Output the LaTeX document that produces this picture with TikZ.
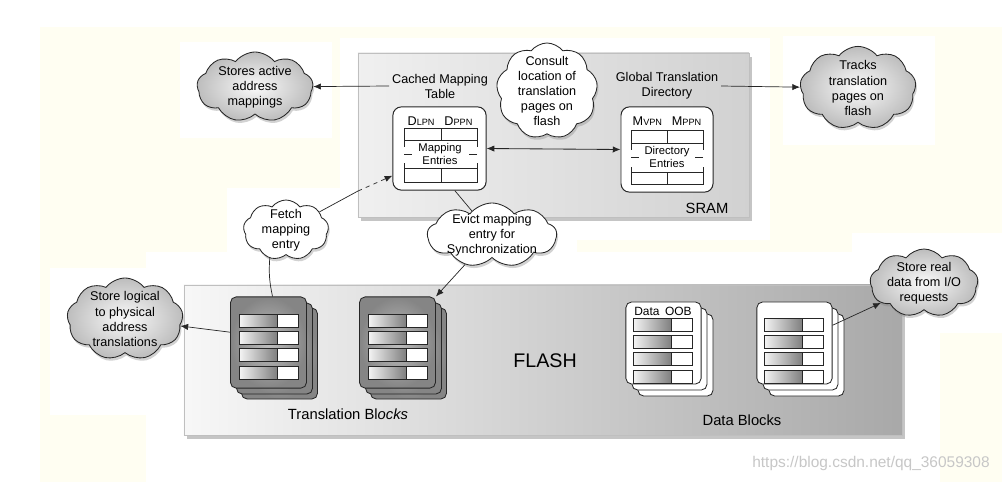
\documentclass[tikz,border=0pt]{standalone}
\usepackage{fontspec}
\setmainfont{Liberation Sans}
\usepackage{xcolor}
\usepackage{tikz}
\usetikzlibrary{shapes,arrows,positioning,arrows.meta,shadows}
\definecolor{crema}{HTML}{FFFEF2}
\tikzset{
  texto/.style={font=\fontsize{9}{10.7}\selectfont, align=center, inner sep=2pt},
  flecha/.style={-{Latex[length=5.5pt,width=4.5pt]}, line width=0.5pt, draw=black!85},
  flechas/.style={{Latex[length=5.5pt,width=4.5pt]}-{Latex[length=5.5pt,width=4.5pt]}, line width=0.6pt, draw=black!85},
  linea/.style={line width=0.5pt, draw=black!85},
  nube/.style={cloud, cloud puffs=9, cloud puff arc=105, cloud ignores aspect, draw=black!85, line width=0.6pt, inner sep=0pt,
    drop shadow={opacity=0.35, shadow xshift=1pt, shadow yshift=-2pt}},
  nubegris/.style={nube, inner color=black!2, outer color=black!26},
  nubeblanca/.style={nube, fill=white},
  memoria/.style={draw=black!25, line width=0.5pt, drop shadow={opacity=0.45, shadow xshift=2pt, shadow yshift=-3pt}},
  tabla/.style={draw=black!85, fill=white, rounded corners=6pt, line width=0.7pt},
  oscuro/.style={draw=black!85, rounded corners=4pt, line width=0.6pt, inner color=black!25, outer color=black!48},
  claro/.style={draw=black!85, fill=white, rounded corners=4pt, line width=0.6pt},
  celda/.style={draw=black!85, line width=0.6pt}
}
\begin{document}
\begin{tikzpicture}[x=0.025cm,y=-0.025cm]
        \useasboundingbox (0,0) rectangle (1002,482);
        % Fondo
        \fill[crema] (40,27) rectangle (1002,482);
        \foreach \xa/\ya/\xb/\yb in {180/42/332/138, 340/38/770/240, 783/36/935/145, 227/188/345/252,
                                     50/268/146/415, 146/252/940/482, 345/238/577/254, 852/233/1002/333} {
            \fill[white] (\xa,\ya) rectangle (\xb,\yb);
        }
        % SRAM y FLASH
        \node[memoria, minimum width=9.78cm, minimum height=4.1cm, left color=black!6, right color=black!18] (sram) at (553.5,135) {};
        \node[memoria, minimum width=17.95cm, minimum height=3.75cm, left color=black!3, right color=black!34] (flash) at (543,360) {};
        \node[font=\fontsize{10.5}{12}\selectfont] (sramlbl) at (707,208) {SRAM};
        \node[font=\fontsize{14}{16}\selectfont] (flashlbl) at (545,361) {FLASH};
        % Tablas en SRAM
        \node[texto] (cmtlbl) at (440,86) {Cached Mapping\\Table};
        \node[texto] (gtdlbl) at (667,86) {Global Translation\\Directory};
        \node[tabla, minimum width=2.33cm, minimum height=2.08cm] (cmt) at (439.5,148.5) {};
        \node[tabla, minimum width=2.3cm, minimum height=2.13cm] (gtd) at (667,149.5) {};
        \node[texto] (cmthead) at (440,121) {D{\fontsize{6.5}{7}\selectfont LPN}\hspace{7pt}D{\fontsize{6.5}{7}\selectfont PPN}};
        \node[texto] (gtdhead) at (667,121) {M{\fontsize{6.5}{7}\selectfont VPN}\hspace{7pt}M{\fontsize{6.5}{7}\selectfont PPN}};
        \foreach \xa/\xb/\xd/\ya/\yb/\yc/\yd in {404/477/441/128/140/168/182, 631/703/667/130/143/172/184} {
            \draw[celda] (\xa,\ya) rectangle (\xb,\yb) (\xd,\ya) -- (\xd,\yb);
            \draw[celda] (\xa,\yc) rectangle (\xb,\yd) (\xd,\yc) -- (\xd,\yd);
            \draw[celda] (\xa,\yb) -- ++(0,7) (\xa,\yc) -- ++(0,-5) (\xb,\yb) -- ++(0,7) (\xb,\yc) -- ++(0,-5);
            \draw[celda] (\xa,{(\yb+\yc)/2}) -- ++(8,0) (\xb,{(\yb+\yc)/2}) -- ++(-8,0);
        }
        \node[font=\fontsize{8}{9.5}\selectfont, align=center] (cmtmid) at (440,154) {Mapping\\Entries};
        \node[font=\fontsize{8}{9.5}\selectfont, align=center] (gtdmid) at (667,157) {Directory\\Entries};
        % Bloques de traduccion
        \foreach \xa in {230.5,359.5} {
            \foreach \d in {11,6} {
                \draw[oscuro] (\xa+\d,297+\d) rectangle ++(76,91);
            }
        }
        \node[oscuro, minimum width=1.9cm, minimum height=2.28cm] (tb1) at (268.5,342.5) {};
        \node[oscuro, minimum width=1.9cm, minimum height=2.28cm] (tb2) at (397.5,342.5) {};
        % Bloques de datos
        \foreach \xa in {626,757} {
            \foreach \d in {12,6} {
                \draw[claro] (\xa+\d,302+\d) rectangle ++(75,82);
            }
        }
        \node[claro, minimum width=1.88cm, minimum height=2.05cm] (db1) at (663.5,343) {};
        \node[claro, minimum width=1.88cm, minimum height=2.05cm] (db2) at (794.5,343) {};
        \node[font=\fontsize{8.5}{10}\selectfont] (dbhead) at (663,311) {Data\hspace{4pt}OOB};
        % Filas de las paginas
        \foreach \xa/\ya in {239/314, 368/314, 633/318, 764/318} {
            \foreach \r in {0,1,2,3} {
                \shade[left color=black!4, right color=black!50] (\xa,\ya+17.4*\r) rectangle ++(38,13);
                \draw[celda, fill=white] (\xa+38,\ya+17.4*\r) rectangle ++(21,13);
                \draw[celda] (\xa,\ya+17.4*\r) rectangle ++(59,13);
            }
        }
        \node[font=\fontsize{10.5}{12}\selectfont] (tblbl) at (348,414) {Translation Bl\textit{ocks}};
        \node[font=\fontsize{10.5}{12}\selectfont] (dblbl) at (742,420) {Data Blocks};
        % Nubes
        \node[nubegris, minimum width=2.9cm, minimum height=1.75cm, label={[texto]center:Stores active\\address\\mappings}] (stores) at (255,87) {};
        \node[nubegris, minimum width=2.9cm, minimum height=2.08cm, label={[texto]center:Tracks\\translation\\pages on\\flash}] (tracks) at (858,88) {};
        \node[nubeblanca, minimum width=2.53cm, minimum height=2.4cm, label={[texto]center:Consult\\location of\\translation\\pages on\\flash}] (consult) at (547,91) {};
        \node[nubeblanca, minimum width=2.13cm, minimum height=1.5cm, label={[texto]center:Fetch\\mapping\\entry}] (fetch) at (286,230) {};
        \node[nubeblanca, minimum width=3.23cm, minimum height=1.6cm, label={[texto]center:Evict mapping\\entry for\\Synchronization}] (evict) at (492,235) {};
        \node[nubegris, minimum width=2.7cm, minimum height=1.7cm, label={[texto]center:Store real\\data from I/O\\requests}] (storereal) at (924,283) {};
        \node[nubegris, minimum width=2.9cm, minimum height=2.05cm, label={[texto]center:Store logical\\to physical\\address\\translations}] (storelog) at (125,319) {};
        % Conexiones
        \coordinate (fetchin) at (358,191);
        \draw[flecha] (cmtlbl.west) -- (stores);
        \draw[flecha] (gtdlbl.east) -- (tracks);
        \draw[flechas] (cmt.east) -- (gtd.west);
        \draw[linea] (fetch) -- (fetchin);
        \draw[flecha, dashed] (fetchin) -- (cmt.210);
        \draw[linea] (cmt.-70) -- (evict);
        \draw[flecha] (evict) -- (tb2.north east);
        \draw[linea] (fetch.-120) to[bend right=8] (tb1.85);
        \draw[flecha] (tb1.165) -- (storelog);
        \draw[flecha] (db2.25) -- (storereal);
        % Marca de agua
        \node[font=\fontsize{11}{13}\selectfont, text=black!22] (marca) at (871,463) {https://blog.csdn.net/qq\_36059308};
\end{tikzpicture}
\end{document}
